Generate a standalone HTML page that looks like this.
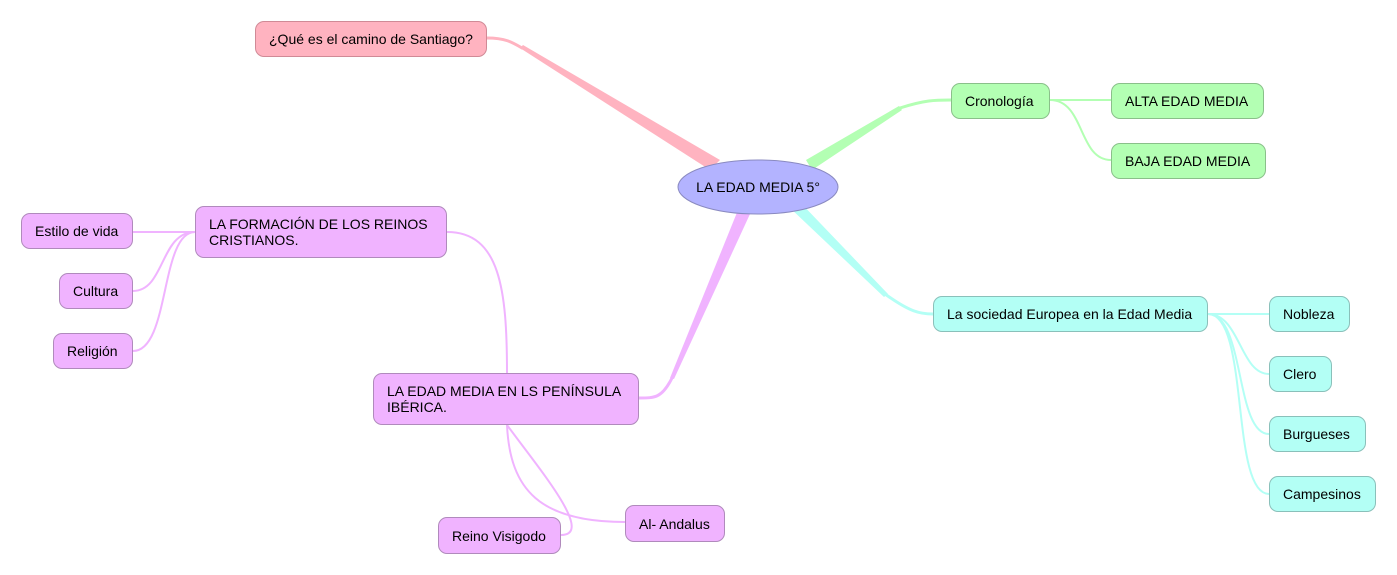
<!DOCTYPE html>
<html><head><meta charset="utf-8"><style>
body{margin:0;width:1397px;height:575px;background:#fff;position:relative;overflow:hidden;font-family:"Liberation Sans",sans-serif;font-size:14px;color:#000}
.n{position:absolute;box-sizing:border-box;border:1px solid #a08aa8;border-radius:9px;display:flex;align-items:center;padding:0 13px;line-height:16px;white-space:nowrap}
.w{white-space:normal}
.p{background:#ffb3c0;border-color:#d08a96}.g{background:#b3ffb3;border-color:#8ac08a}.c{background:#b3fff5;border-color:#8ac0ba}.v{background:#f0b3ff;border-color:#b08abc}
svg{position:absolute;left:0;top:0}
</style></head><body>
<svg width="1397" height="575">
<g fill="none" stroke-width="2">
<path d="M1050 100 H1111" stroke="#b3ffb3"/>
<path d="M1050 100 C1085 100 1078 160 1111 160" stroke="#b3ffb3"/>
<path d="M1208 314 H1269" stroke="#b3fff5"/>
<path d="M1208 314 C1240 314 1240 374 1269 374" stroke="#b3fff5"/>
<path d="M1208 314 C1245 314 1235 434 1269 434" stroke="#b3fff5"/>
<path d="M1208 314 C1250 314 1230 494 1269 494" stroke="#b3fff5"/>
<path d="M195 232 H133" stroke="#f0b3ff"/>
<path d="M195 232 C160 232 165 291 133 291" stroke="#f0b3ff"/>
<path d="M195 232 C160 232 170 351 133 351" stroke="#f0b3ff"/>
<path d="M447 232 C500 232 507 290 507 373" stroke="#f0b3ff"/>
<path d="M507 425 C510 490 540 522 625 522" stroke="#f0b3ff"/>
<path d="M507 425 C540 470 595 535 561 535" stroke="#f0b3ff"/>
</g>
<g fill="none" stroke-linecap="round">
<path d="M487 38 C505 38 512 42 522 48" stroke="#ffb3c0" stroke-width="3"/>
<path d="M900 108 C925 100 935 100 951 100" stroke="#b3ffb3" stroke-width="3"/>
<path d="M885 294 C910 312 920 314 933 314" stroke="#b3fff5" stroke-width="3"/>
<path d="M672 378 C662 398 655 398 639 398" stroke="#f0b3ff" stroke-width="3"/>
</g>
<polygon points="520,48 523,45 720,160 710,170" fill="#ffb3c0"/>
<polygon points="806,160 812,170 902,110 899,106" fill="#b3ffb3"/>
<polygon points="788,206 798,200 888,294 884,297" fill="#b3fff5"/>
<polygon points="738,210 750,214 674,379 670,378" fill="#f0b3ff"/>
<ellipse cx="758" cy="187" rx="80" ry="27" fill="#b3b3ff" stroke="#8a8ac0"/>
<text x="758" y="192" text-anchor="middle" font-family="Liberation Sans" font-size="14">LA EDAD MEDIA 5°</text>
</svg>
<div class="n p" style="left:255px;top:21px;width:232px;height:36px">¿Qué es el camino de Santiago?</div>
<div class="n g" style="left:951px;top:83px;width:99px;height:36px">Cronología</div>
<div class="n g" style="left:1111px;top:83px;width:153px;height:36px">ALTA EDAD MEDIA</div>
<div class="n g" style="left:1111px;top:143px;width:155px;height:36px">BAJA EDAD MEDIA</div>
<div class="n c" style="left:933px;top:296px;width:275px;height:36px">La sociedad Europea en la Edad Media</div>
<div class="n c" style="left:1269px;top:296px;width:81px;height:36px">Nobleza</div>
<div class="n c" style="left:1269px;top:356px;width:63px;height:36px">Clero</div>
<div class="n c" style="left:1269px;top:416px;width:97px;height:36px">Burgueses</div>
<div class="n c" style="left:1269px;top:476px;width:107px;height:36px">Campesinos</div>
<div class="n v w" style="left:195px;top:206px;width:252px;height:52px">LA FORMACIÓN DE LOS REINOS CRISTIANOS.</div>
<div class="n v" style="left:21px;top:213px;width:112px;height:36px">Estilo de vida</div>
<div class="n v" style="left:59px;top:273px;width:74px;height:36px">Cultura</div>
<div class="n v" style="left:53px;top:333px;width:80px;height:36px">Religión</div>
<div class="n v w" style="left:373px;top:373px;width:266px;height:52px">LA EDAD MEDIA EN LS PENÍNSULA IBÉRICA.</div>
<div class="n v" style="left:625px;top:505px;width:100px;height:37px">Al- Andalus</div>
<div class="n v" style="left:438px;top:517px;width:123px;height:37px">Reino Visigodo</div>
</body></html>
